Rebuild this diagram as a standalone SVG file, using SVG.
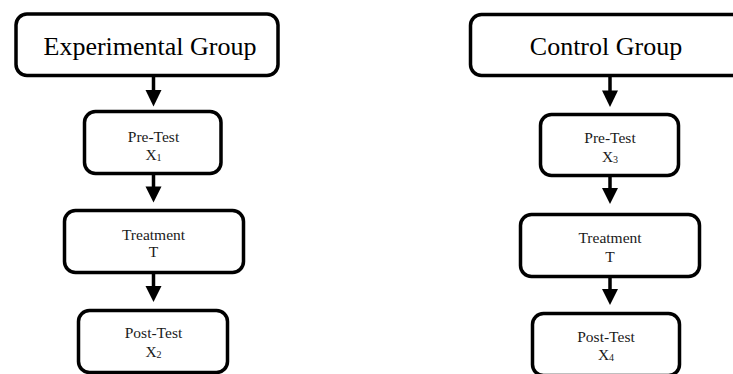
<svg xmlns="http://www.w3.org/2000/svg" width="733" height="374" viewBox="0 0 733 374">
<style>
.box{fill:#fff;stroke:#000;stroke-width:3.5}
.big{font-family:"Liberation Serif","Times New Roman",serif;font-size:26px;text-anchor:middle;fill:#000}
.sm{font-family:"Liberation Serif","Times New Roman",serif;font-size:15.5px;text-anchor:middle;fill:#1a1a1a}
.sub{font-size:10px}
.shaft{stroke:#000;stroke-width:3.5;fill:none}
.head{fill:#000}
</style>
<rect width="733" height="374" fill="#fff"/>
<g id="connectors">
<line class="shaft" x1="153.5" y1="75" x2="153.5" y2="92"/>
<polygon class="head" points="145.5,90 161.5,90 153.5,106.5"/>
<line class="shaft" x1="153.5" y1="174" x2="153.5" y2="188"/>
<polygon class="head" points="145.5,186.5 161.5,186.5 153.5,202.5"/>
<line class="shaft" x1="153.5" y1="272" x2="153.5" y2="288"/>
<polygon class="head" points="145.5,286 161.5,286 153.5,302"/>
<line class="shaft" x1="610" y1="76" x2="610" y2="92"/>
<polygon class="head" points="602,90.5 618,90.5 610,107"/>
<line class="shaft" x1="610" y1="176" x2="610" y2="190"/>
<polygon class="head" points="602,188 618,188 610,204"/>
<line class="shaft" x1="610" y1="277" x2="610" y2="291"/>
<polygon class="head" points="602,289 618,289 610,305"/>
</g>
<g id="experimental-group">
<rect class="box" x="16" y="14" width="262" height="61.5" rx="11"/>
<text class="big" x="150" y="55">Experimental Group</text>
</g>
<g id="pretest-x1">
<rect class="box" x="84.5" y="111.5" width="136.5" height="62" rx="11"/>
<text class="sm" x="153.5" y="142">Pre-Test</text>
<text class="sm" x="153.5" y="160">X<tspan class="sub" dy="1">1</tspan></text>
</g>
<g id="treatment-left">
<rect class="box" x="64.5" y="210.5" width="179" height="62" rx="11"/>
<text class="sm" x="153.5" y="240">Treatment</text>
<text class="sm" x="153.5" y="257">T</text>
</g>
<g id="posttest-x2">
<rect class="box" x="78.5" y="310.5" width="149" height="62" rx="11"/>
<text class="sm" x="153.5" y="338">Post-Test</text>
<text class="sm" x="153.5" y="357">X<tspan class="sub" dy="1">2</tspan></text>
</g>
<g id="control-group">
<rect class="box" x="470.5" y="14.5" width="276" height="61" rx="11"/>
<text class="big" x="606" y="55">Control Group</text>
</g>
<g id="pretest-x3">
<rect class="box" x="540.5" y="114.5" width="138" height="61" rx="11"/>
<text class="sm" x="610" y="143">Pre-Test</text>
<text class="sm" x="610" y="162">X<tspan class="sub" dy="1">3</tspan></text>
</g>
<g id="treatment-right">
<rect class="box" x="520.5" y="214.5" width="179" height="62" rx="11"/>
<text class="sm" x="610" y="243">Treatment</text>
<text class="sm" x="610" y="261.5">T</text>
</g>
<g id="posttest-x4">
<rect class="box" x="532.5" y="313.5" width="147" height="62" rx="11"/>
<text class="sm" x="606" y="342">Post-Test</text>
<text class="sm" x="606" y="360">X<tspan class="sub" dy="1">4</tspan></text>
</g>
</svg>
